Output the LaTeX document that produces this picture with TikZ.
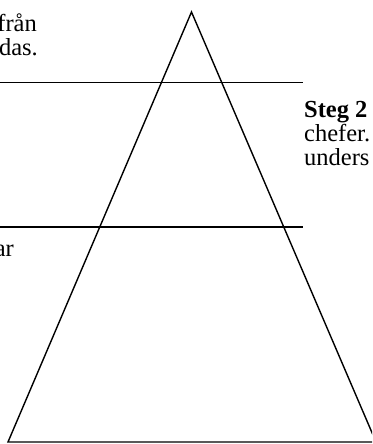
\documentclass[tikz,border=0pt]{standalone}
\usepackage{fontspec}
\setmainfont{Liberation Serif}
\begin{document}
\begin{tikzpicture}[x=1pt,y=-1pt,
  edge/.style={line width=1.4pt,line join=miter},
  txt/.style={inner sep=0pt,font=\fontsize{24.5}{24}\selectfont}]
\useasboundingbox (0,0) rectangle (372,444);
\clip (0,0) rectangle (372,444);
\fill[white] (0,0) rectangle (372,444);
\coordinate (apex) at (191.5,12);
\coordinate (bl) at (8,442);
\coordinate (br) at (376,442);
\coordinate (l1a) at (0,82.5);
\coordinate (l1b) at (303,82.5);
\coordinate (l2a) at (0,227);
\coordinate (l2b) at (303,227);
\draw[edge] (apex) -- (bl) -- (br) -- cycle;
\draw[edge] (l1a) -- (l1b);
\draw[edge] (l2a) -- (l2b);
\node[txt,anchor=base east] (t1) at (37,32) {från};
\node[txt,anchor=base east] (t2) at (38,56) {das.};
\node[txt,anchor=base east] (t3) at (14,256) {ar};
\node[txt,anchor=base west] (t4) at (304,117) {\textbf{Steg 2}};
\node[txt,anchor=base west] (t5) at (304,141) {chefer.};
\node[txt,anchor=base west] (t6) at (304,165) {unders};
\end{tikzpicture}
\end{document}
